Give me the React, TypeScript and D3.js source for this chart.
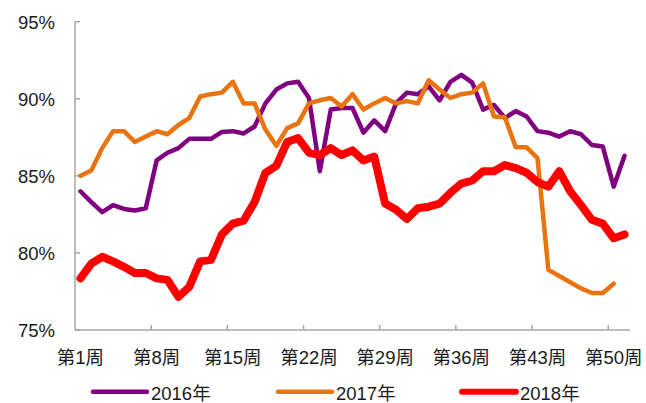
import React from 'react'
import * as d3 from 'd3'

// weekly values, 第1周 .. 第51周
const weeks = d3.range(1, 52)
const weekTicks = ['第1周', '第8周', '第15周', '第22周', '第29周', '第36周', '第43周', '第50周']
const yTicks = [75, 80, 85, 90, 95]

const rate2016 = [
  84.0, 83.3, 82.65, 83.1, 82.85, 82.75, 82.9, 86.0, 86.5, 86.8,
  87.4, 87.4, 87.4, 87.85, 87.9, 87.75, 88.2, 89.7, 90.6, 91.0,
  91.1, 90.05, 85.3, 89.3, 89.4, 89.4, 87.8, 88.6, 87.9, 89.7,
  90.4, 90.3, 90.8, 89.9, 91.1, 91.55, 91.05, 89.3, 89.6, 88.75,
  89.2, 88.85, 87.9, 87.8, 87.55, 87.9, 87.7, 87.0, 86.9, 84.3, 86.3,
]
const rate2017 = [
  85.0, 85.35, 86.8, 87.9, 87.9, 87.2, 87.55, 87.9, 87.7, 88.3,
  88.75, 90.15, 90.3, 90.4, 91.1, 89.7, 89.7, 88.0, 86.95, 88.1,
  88.4, 89.7, 89.9, 90.05, 89.5, 90.3, 89.3, 89.7, 90.05, 89.7,
  89.85, 89.7, 91.2, 90.6, 90.05, 90.3, 90.4, 91.0, 88.85, 88.8,
  86.85, 86.85, 86.15, 78.9, 78.5, 78.1, 77.7, 77.4, 77.4, 78.0,
]
const rate2018 = [
  78.35, 79.3, 79.75, 79.45, 79.1, 78.7, 78.7, 78.35, 78.25, 77.15,
  77.8, 79.45, 79.55, 81.2, 81.9, 82.1, 83.3, 85.2, 85.65, 87.2,
  87.45, 86.5, 86.35, 86.8, 86.35, 86.65, 86.0, 86.25, 83.2, 82.8,
  82.2, 82.9, 83.0, 83.2, 83.9, 84.5, 84.7, 85.3, 85.3, 85.7,
  85.5, 85.2, 84.6, 84.3, 85.3, 84.0, 83.1, 82.15, 81.9, 80.95, 81.2,
]

const series = [
  { name: '2016年', values: rate2016, color: '#800080', width: 4.5, legendX: 93 },
  { name: '2017年', values: rate2017, color: '#E8730F', width: 4.5, legendX: 278 },
  { name: '2018年', values: rate2018, color: '#FF0000', width: 8, legendX: 462 },
]

const font = '"Liberation Sans", Arial, "Noto Sans CJK SC", sans-serif'
const axisColor = '#a6a6a6'

const App = () => {
  const x = d3.scaleBand<number>().domain(weeks).range([75, 630]).padding(0)
  const y = d3.scaleLinear().domain([75, 95]).range([330, 21.7])
  const cx = (w: number) => (x(w) as number) + x.bandwidth() / 2

  const line = d3.line<number>()
    .x((d, i) => cx(weeks[i]))
    .y(d => y(d))

  return (
    <svg width="646" height="403" style={{ position: 'absolute', left: 0, top: 0, background: '#fff' }}
      fontFamily={font}>
      {/* y axis */}
      <line x1={75} x2={75} y1={y(95)} y2={y(75)} stroke={axisColor} strokeWidth={1.5} />
      {yTicks.map(t => (
        <g key={t}>
          <line x1={75} x2={80} y1={y(t)} y2={y(t)} stroke={axisColor} strokeWidth={1.5} />
          <text x={55} y={y(t) + 7} textAnchor="end" fontSize={18.5} fill="#1a1a1a">{t}%</text>
        </g>
      ))}
      {/* x axis */}
      <line x1={75} x2={630} y1={y(75)} y2={y(75)} stroke={axisColor} strokeWidth={1.5} />
      {weekTicks.map((lab, k) => {
        const w = weeks[k * 7]
        const edge = x(w) as number
        return (
          <g key={lab}>
            {k > 0 && <line x1={edge} x2={edge} y1={y(75)} y2={y(75) - 5} stroke={axisColor} strokeWidth={1.5} />}
            <text x={cx(w)} y={364} textAnchor="middle" fontSize={18.5} fill="#1a1a1a">{lab}</text>
          </g>
        )
      })}
      {/* lines */}
      {series.map(s => (
        <path key={s.name} d={line(s.values) || ''} fill="none" stroke={s.color}
          strokeWidth={s.width} strokeLinejoin="round" strokeLinecap="round" />
      ))}
      {/* legend */}
      {series.map(s => (
        <g key={'lg' + s.name}>
          <line x1={s.legendX} x2={s.legendX + 54} y1={391.7} y2={391.7} stroke={s.color}
            strokeWidth={s.width > 5 ? 6 : 4.5} strokeLinecap="round" />
          <text x={s.legendX + 58} y={400} fontSize={18.5} fill="#1a1a1a">{s.name}</text>
        </g>
      ))}
    </svg>
  )
}

export default App
